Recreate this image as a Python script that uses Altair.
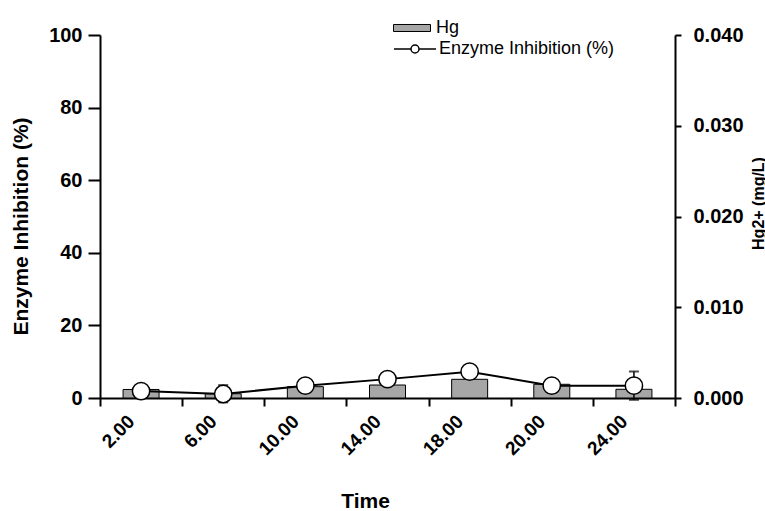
import altair as alt
import pandas as pd

# ---- data ----
times = ["2.00", "6.00", "10.00", "14.00", "18.00", "20.00", "24.00"]
enzyme = [1.9, 1.1, 3.4, 5.2, 7.25, 3.4, 3.4]          # Enzyme Inhibition (%)
enzyme_err = [0, 0, 0, 0, 0, 0, 3.9]
hg = [0.00094, 0.00047, 0.00125, 0.00143, 0.00206, 0.00151, 0.00096]  # Hg2+ (mg/L)
hg_err = [0, 0.00095, 0, 0, 0, 0, 0]
series_names = ["Hg", "Enzyme Inhibition (%)"]

df = pd.DataFrame({
    "time": times,
    "enzyme": enzyme,
    "enz_lo": [v - e for v, e in zip(enzyme, enzyme_err)],
    "enz_hi": [v + e for v, e in zip(enzyme, enzyme_err)],
    "enz_err": enzyme_err,
    "hg": hg,
    "hg_lo": [v - e for v, e in zip(hg, hg_err)],
    "hg_hi": [v + e for v, e in zip(hg, hg_err)],
    "hg_err": hg_err,
    "s_hg": [series_names[0]] * len(times),
    "s_enz": [series_names[1]] * len(times),
})

FONT = "Liberation Sans"

x_axis = alt.Axis(
    title="Time", labelAngle=315, labelAlign="right", labelBaseline="middle",
    tickBand="extent", tickSize=8, labelPadding=12, labelOffset=-10,
    labelFontSize=19,
    titleX=265, titleY=109, titleBaseline="alphabetic", titleAlign="center",
)
X = alt.X("time:N", sort=times, axis=x_axis,
          scale=alt.Scale(paddingInner=0, paddingOuter=0))

left_axis = alt.Axis(
    title="Enzyme Inhibition (%)", orient="left", values=[0, 20, 40, 60, 80, 100],
    tickSize=12, labelPadding=6, labelFontSize=20,
    titleAngle=270, titleX=-73, titleY=191,
    titleBaseline="alphabetic", titleAlign="center",
)
right_axis = alt.Axis(
    title="Hg2+ (mg/L)", orient="right", values=[0, 0.01, 0.02, 0.03, 0.04],
    format=".3f", tickSize=6, labelPadding=12, labelFontSize=20, titleFontSize=16,
    titleAngle=270, titleX=88, titleY=168, titleBaseline="alphabetic",
    titleAlign="center",
)
y_left_scale = alt.Scale(domain=[0, 100], nice=False, zero=True)
y_right_scale = alt.Scale(domain=[0, 0.04], nice=False, zero=True)

base = alt.Chart(df)

bars = base.mark_bar(width=36, stroke="black", strokeWidth=1).encode(
    x=X,
    y=alt.Y("hg:Q", scale=y_right_scale, axis=right_axis),
    fill=alt.Fill(
        "s_hg:N",
        scale=alt.Scale(domain=[series_names[0]], range=["#a6a6a6"]),
        legend=alt.Legend(
            orient="none", legendX=293, legendY=-26, title=None,
            symbolType="M-1,-0.19H1V0.19H-1Z", symbolSize=1369,
            symbolStrokeColor="black", symbolStrokeWidth=1,
            labelFontSize=18, labelOffset=5, padding=0, labelLimit=400,
        ),
    ),
)
bar_err_rule = base.mark_rule(color="black", strokeWidth=1.5).encode(
    x=X,
    y=alt.Y("hg_lo:Q", scale=y_right_scale, axis=right_axis),
    y2="hg_hi:Q",
).transform_filter("datum.hg_err > 0")
bar_err_lo = base.mark_tick(orient="horizontal", color="black", size=10, thickness=2).encode(
    x=X, y=alt.Y("hg_lo:Q", scale=y_right_scale, axis=right_axis),
).transform_filter("datum.hg_err > 0")
bar_err_hi = base.mark_tick(orient="horizontal", color="black", size=10, thickness=2).encode(
    x=X, y=alt.Y("hg_hi:Q", scale=y_right_scale, axis=right_axis),
).transform_filter("datum.hg_err > 0")

right_layer = alt.layer(bars, bar_err_rule, bar_err_lo, bar_err_hi)

line_symbol = ("M-1,0H-0.19M0.19,0H1M0.19,0A0.19,0.19,0,1,1,-0.19,0"
               "A0.19,0.19,0,1,1,0.19,0Z")
line = base.mark_line(strokeWidth=2).encode(
    x=X,
    y=alt.Y("enzyme:Q", scale=y_left_scale, axis=left_axis),
    stroke=alt.Stroke(
        "s_enz:N",
        scale=alt.Scale(domain=[series_names[1]], range=["black"]),
        legend=alt.Legend(
            orient="none", legendX=293, legendY=-8, title=None,
            symbolType=line_symbol, symbolSize=1764, symbolStrokeWidth=1.5,
            symbolFillColor="white", labelFontSize=18, labelOffset=2, padding=0,
            labelLimit=400,
        ),
    ),
)
enz_err_rule = base.mark_rule(color="black", strokeWidth=1.5).encode(
    x=X,
    y=alt.Y("enz_lo:Q", scale=y_left_scale, axis=left_axis),
    y2="enz_hi:Q",
).transform_filter("datum.enz_err > 0")
enz_err_lo = base.mark_tick(orient="horizontal", color="black", size=10, thickness=2).encode(
    x=X, y=alt.Y("enz_lo:Q", scale=y_left_scale, axis=left_axis),
).transform_filter("datum.enz_err > 0")
enz_err_hi = base.mark_tick(orient="horizontal", color="black", size=10, thickness=2).encode(
    x=X, y=alt.Y("enz_hi:Q", scale=y_left_scale, axis=left_axis),
).transform_filter("datum.enz_err > 0")
points = base.mark_point(filled=False, fill="white", stroke="black", strokeWidth=1.5,
                         size=300, opacity=1, shape="circle").encode(
    x=X,
    y=alt.Y("enzyme:Q", scale=y_left_scale, axis=left_axis),
)

left_layer = alt.layer(line, enz_err_rule, enz_err_lo, enz_err_hi, points)

chart = alt.layer(right_layer, left_layer).resolve_scale(
    y="independent", fill="independent", stroke="independent"
).properties(
    width=575, height=363,
    autosize=alt.AutoSizeParams(type="none"),
    padding={"left": 100, "top": 35, "right": 90, "bottom": 113},
).configure_view(strokeWidth=0).configure_axis(
    domainColor="black", domainWidth=2, tickColor="black", tickWidth=2,
    labelColor="black", titleColor="black", grid=False,
    labelFont=FONT, titleFont=FONT, labelFontWeight="bold", titleFontWeight="bold",
    labelFontSize=19, titleFontSize=21,
).configure_legend(
    labelFont=FONT, labelColor="black", labelFontSize=18,
)

chart.save("out.html", embed_options={"renderer": "svg", "actions": False})
